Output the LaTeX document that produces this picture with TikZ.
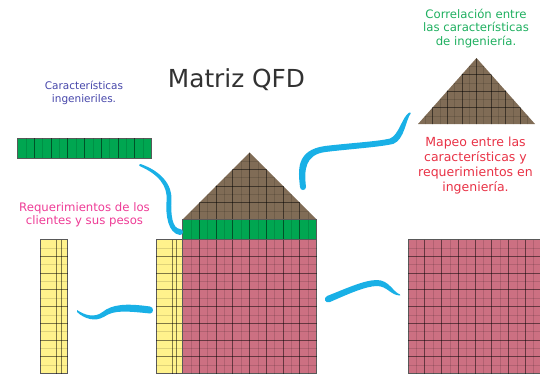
\documentclass[tikz,border=0pt]{standalone}
\usepackage{fontspec}
\setmainfont{DejaVu Sans}
\definecolor{qpink}{RGB}{204,112,130}
\definecolor{qgreen}{RGB}{0,166,81}
\definecolor{qbrown}{RGB}{128,108,86}
\definecolor{qyellow}{RGB}{255,242,140}
\definecolor{qblue}{RGB}{25,176,230}
\definecolor{qtitle}{RGB}{50,50,50}
\definecolor{qpurple}{RGB}{70,70,170}
\definecolor{qmagenta}{RGB}{238,60,150}
\definecolor{qgreentext}{RGB}{30,175,95}
\definecolor{qred}{RGB}{232,50,70}
\begin{document}
\begin{tikzpicture}[x=1pt,y=-1pt,
  cellbox/.style={draw=black!65, line width=0.6pt, inner sep=0pt, outer sep=0pt, anchor=north west},
  fineline/.style={draw=black, draw opacity=0.13, line width=0.5pt},
  majline/.style={draw=black, draw opacity=0.5, line width=0.6pt},
  brush/.style={fill=qblue, draw=none},
  lbl/.style={align=center, inner sep=0pt, anchor=north}]
\useasboundingbox (0,0) rectangle (540,375);

% ---------- standalone engineering characteristics bar
\node[cellbox, fill=qgreen, minimum width=134pt, minimum height=20pt] (ingbar) at (17.5,138) {};
\begin{scope}[shift={(ingbar.north west)}]
  \foreach \i in {1,3,...,15} \draw[fineline] (\i*8.375,0) -- (\i*8.375,20);
  \foreach \i in {2,4,...,14} \draw[majline] (\i*8.375,0) -- (\i*8.375,20);
\end{scope}

% ---------- standalone requirements column
\node[cellbox, fill=qyellow, minimum width=27.5pt, minimum height=134pt] (reqcol) at (40,239.5) {};
\begin{scope}[shift={(reqcol.north west)}]
  \foreach \i in {1,3,...,15} \draw[fineline] (0,\i*8.375) -- (27.5,\i*8.375);
  \foreach \i in {2,4,...,14} \draw[majline] (0,\i*8.375) -- (27.5,\i*8.375);
  \draw[majline] (16.75,0) -- (16.75,134);
  \draw[majline] (21.5,0) -- (21.5,134);
\end{scope}

% ---------- main house: roof
\coordinate (roofL) at (182.5,219.5);
\coordinate (roofR) at (316.5,219.5);
\coordinate (roofT) at (249.5,152.5);
\fill[qbrown] (roofL) -- (roofT) -- (roofR) -- cycle;
\begin{scope}
  \clip (roofL) -- (roofT) -- (roofR) -- cycle;
  \foreach \i in {1,3,...,15} \draw[fineline] (182.5+\i*8.375,150) -- (182.5+\i*8.375,220);
  \foreach \i in {2,4,...,14} \draw[majline] (182.5+\i*8.375,150) -- (182.5+\i*8.375,220);
  \foreach \i in {1,3,...,7} \draw[fineline] (180,219.5-\i*8.375) -- (320,219.5-\i*8.375);
  \foreach \i in {2,4,6} \draw[majline] (180,219.5-\i*8.375) -- (320,219.5-\i*8.375);
\end{scope}

% ---------- main house: green bar
\node[cellbox, fill=qgreen, minimum width=134pt, minimum height=20pt] (housebar) at (182.5,219.5) {};
\begin{scope}[shift={(housebar.north west)}]
  \foreach \i in {1,3,...,15} \draw[fineline] (\i*8.375,0) -- (\i*8.375,20);
  \foreach \i in {2,4,...,14} \draw[majline] (\i*8.375,0) -- (\i*8.375,20);
\end{scope}

% ---------- main house: yellow column
\node[cellbox, fill=qyellow, minimum width=26.5pt, minimum height=134pt] (housereq) at (156,239.5) {};
\begin{scope}[shift={(housereq.north west)}]
  \foreach \i in {1,3,...,15} \draw[fineline] (0,\i*8.375) -- (26.5,\i*8.375);
  \foreach \i in {2,4,...,14} \draw[majline] (0,\i*8.375) -- (26.5,\i*8.375);
  \draw[majline] (16.75,0) -- (16.75,134);
  \draw[majline] (20.5,0) -- (20.5,134);
\end{scope}

% ---------- main house: pink matrix
\node[cellbox, fill=qpink, minimum width=134pt, minimum height=134pt] (housemat) at (182.5,239.5) {};
\begin{scope}[shift={(housemat.north west)}]
  \foreach \i in {1,3,...,15} {\draw[fineline] (\i*8.375,0) -- (\i*8.375,134);
                               \draw[fineline] (0,\i*8.375) -- (134,\i*8.375);}
  \foreach \i in {2,4,...,14} {\draw[majline] (\i*8.375,0) -- (\i*8.375,134);
                               \draw[majline] (0,\i*8.375) -- (134,\i*8.375);}
\end{scope}

% ---------- right roof (correlation)
\coordinate (corL) at (418,124);
\coordinate (corR) at (535,124);
\coordinate (corT) at (476.5,58);
\fill[qbrown] (corL) -- (corT) -- (corR) -- cycle;
\begin{scope}
  \clip (corL) -- (corT) -- (corR) -- cycle;
  \foreach \i in {1,3,...,15} \draw[fineline] (418+\i*7.3,55) -- (418+\i*7.3,125);
  \foreach \i in {2,4,...,14} \draw[majline] (418+\i*7.3,55) -- (418+\i*7.3,125);
  \foreach \i in {1,3,...,7} \draw[fineline] (415,124-\i*8.25) -- (540,124-\i*8.25);
  \foreach \i in {2,4,6} \draw[majline] (415,124-\i*8.25) -- (540,124-\i*8.25);
\end{scope}

% ---------- right pink matrix (mapping)
\node[cellbox, fill=qpink, minimum width=132pt, minimum height=134pt] (mapmat) at (408,239.5) {};
\begin{scope}[shift={(mapmat.north west)}]
  \foreach \i in {1,3,...,15} {\draw[fineline] (\i*8.375,0) -- (\i*8.375,134);
                               \draw[fineline] (0,\i*8.375) -- (132,\i*8.375);}
  \foreach \i in {2,4,...,14} {\draw[majline] (\i*8.375,0) -- (\i*8.375,134);
                               \draw[majline] (0,\i*8.375) -- (132,\i*8.375);}
\end{scope}

% ---------- texts
\node[inner sep=0pt, anchor=base, text=qtitle, font=\fontsize{24.8}{28}\selectfont] (title) at (236.5,87) {Matriz QFD};
\node[lbl, text=qpurple, font=\fontsize{10.5}{13}\selectfont] (ingtxt) at (84,81) {Características\\ingenieriles.};
\node[lbl, text=qmagenta, font=\fontsize{11.7}{13.5}\selectfont] (reqtxt) at (84.5,202) {Requerimientos de los\\clientes y sus pesos};
\node[lbl, text=qgreentext, font=\fontsize{11.7}{13.4}\selectfont] (cortxt) at (476,9) {Correlación entre\\las características\\de ingeniería.};
\node[lbl, text=qred, font=\fontsize{12.5}{15}\selectfont] (maptxt) at (475.5,137) {Mapeo entre las\\características y\\requerimientos en\\ingeniería.};

% ---------- blue brush strokes (tapered)
% 1: from the engineering bar down to the house bar
\coordinate (b1s) at (140.5,164);
\coordinate (b1e) at (180,235);
\fill[brush] (b1s) .. controls (161,171) and (172.5,185) .. (171.4,200)
  .. controls (170.7,214) and (172,228.5) .. (180,229)
  .. controls (184,229) and (184,235) .. (b1e)
  .. controls (168,233.5) and (165.3,215) .. (166.6,200)
  .. controls (167.5,186) and (159,174.5) .. (139.5,166)
  .. controls (138.5,165.5) and (139.3,164) .. (b1s) -- cycle;

% 2: from the roof up to the correlation roof
\coordinate (b2s) at (300,187);
\coordinate (b2e) at (410.7,113.5);
\fill[brush] (b2s) .. controls (298,170) and (296,150) .. (325,146)
  .. controls (350,143) and (378,141.5) .. (390,138.5)
  .. controls (399,135) and (402,117) .. (409.3,112.5)
  .. controls (410,112) and (411,113) .. (b2e)
  .. controls (406,119) and (404.5,139.5) .. (393.5,143.8)
  .. controls (381,147) and (350,149) .. (325.5,152)
  .. controls (305,154.5) and (304,170) .. (306,187)
  .. controls (306,191) and (300,191) .. (b2s) -- cycle;

% 3: between the two requirement columns
\coordinate (b3s) at (77,310);
\coordinate (b3e) at (150,313.5);
\fill[brush] (b3s) .. controls (85,315.5) and (95,318) .. (102.5,312)
  .. controls (112,304.5) and (125,303) .. (150,306.5)
  .. controls (154,307) and (154,313.5) .. (b3e)
  .. controls (126,311) and (114,310) .. (104.5,316.5)
  .. controls (95,322.5) and (84,318.5) .. (77,312)
  .. controls (76.5,311.5) and (76.5,310.3) .. (b3s) -- cycle;

% 4: between the two relation matrices
\coordinate (b4s) at (327,296);
\coordinate (b4e) at (400,295.5);
\fill[brush] (b4s) .. controls (345,289) and (364,280) .. (377,280)
  .. controls (389,280) and (393,292) .. (400,294.5)
  .. controls (400.5,295) and (400.5,295.5) .. (b4e)
  .. controls (391,295.5) and (387,286) .. (377,286)
  .. controls (366,286) and (347,294.5) .. (330,302)
  .. controls (325,304) and (323,298) .. (b4s) -- cycle;
\end{tikzpicture}
\end{document}
